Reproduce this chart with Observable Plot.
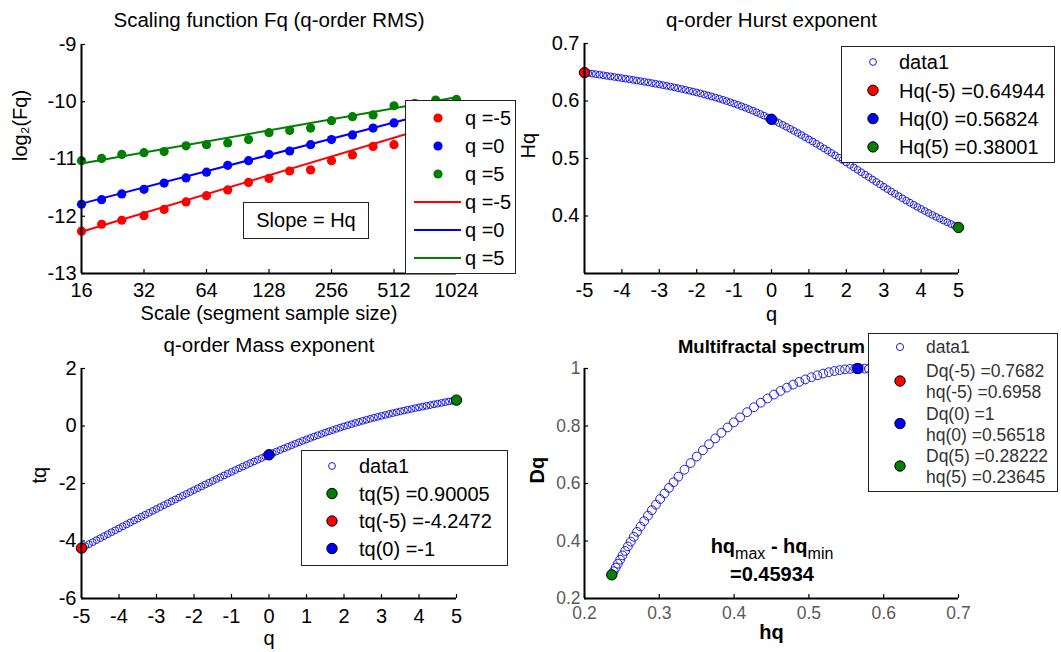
<!DOCTYPE html>
<html>
<head>
<meta charset="utf-8">
<script src="https://cdn.jsdelivr.net/npm/d3@7"></script>
<script src="https://cdn.jsdelivr.net/npm/@observablehq/plot@0.6"></script>
<style>
  html, body { margin: 0; padding: 0; background: #fff; }
  #root { position: relative; width: 1061px; height: 652px; overflow: hidden; background: #fff;
          font-family: "Liberation Sans", Arial, Helvetica, sans-serif; }
  #root > svg { position: absolute; left: 0; top: 0; }
  .box { position: absolute; background: #fff; border: 1px solid #222; box-sizing: border-box; }
</style>
</head>
<body>
<div id="root"></div>
<script>
// ---------------- DATA ----------------
// Panel 1: scaling function
const scales = [16, 20, 25, 32, 40, 51, 64, 81, 102, 128, 161, 203, 256, 323, 406, 512, 645, 813, 1024];
const fqQm5 = [-12.26, -12.14, -12.07, -11.99, -11.88, -11.75, -11.64, -11.54, -11.41, -11.34, -11.21, -11.19, -11.03, -10.93, -10.78, -10.75, -10.62, -10.50, -10.36];
const fqQ0  = [-11.79, -11.71, -11.61, -11.53, -11.42, -11.33, -11.23, -11.11, -11.03, -10.92, -10.86, -10.75, -10.66, -10.58, -10.46, -10.37, -10.29, -10.20, -10.10];
const fqQ5  = [-11.03, -10.99, -10.92, -10.89, -10.87, -10.77, -10.75, -10.72, -10.66, -10.54, -10.50, -10.46, -10.33, -10.26, -10.23, -10.07, -10.03, -9.97, -9.96];
const fitScales = [16, 1024];
const fitQm5 = [-12.27, -10.30];
const fitQ0  = [-11.78, -10.08];
const fitQ5  = [-11.08, -9.92];
const seriesNames = ["q =-5", "q =0", "q =5"];
const seriesColors = ["#ff0000", "#0000ff", "#007f00"];
const scaleTicks = [16, 32, 64, 128, 256, 512, 1024];
const fqTicks = [-13, -12, -11, -10, -9];

// q grid and derived exponents
const qGrid = [-5,-4.9,-4.8,-4.7,-4.6,-4.5,-4.4,-4.3,-4.2,-4.1,
  -4,-3.9,-3.8,-3.7,-3.6,-3.5,-3.4,-3.3,-3.2,-3.1,
  -3,-2.9,-2.8,-2.7,-2.6,-2.5,-2.4,-2.3,-2.2,-2.1,
  -2,-1.9,-1.8,-1.7,-1.6,-1.5,-1.4,-1.3,-1.2,-1.1,
  -1,-0.9,-0.8,-0.7,-0.6,-0.5,-0.4,-0.3,-0.2,-0.1,
  0,
  0.1,0.2,0.3,0.4,0.5,0.6,0.7,0.8,0.9,1,
  1.1,1.2,1.3,1.4,1.5,1.6,1.7,1.8,1.9,2,
  2.1,2.2,2.3,2.4,2.5,2.6,2.7,2.8,2.9,3,
  3.1,3.2,3.3,3.4,3.5,3.6,3.7,3.8,3.9,4,
  4.1,4.2,4.3,4.4,4.5,4.6,4.7,4.8,4.9,5];

const hurst = [0.64944,0.64851,0.64757,0.64662,0.64566,0.64470,0.64373,0.64276,0.64178,0.64079,
  0.63979,0.63878,0.63775,0.63670,0.63563,0.63454,0.63343,0.63230,0.63115,0.62998,
  0.62879,0.62757,0.62631,0.62501,0.62367,0.62229,0.62087,0.61941,0.61791,0.61637,
  0.61479,0.61316,0.61146,0.60970,0.60787,0.60598,0.60402,0.60200,0.59991,0.59776,
  0.59554,0.59324,0.59085,0.58836,0.58578,0.58310,0.58033,0.57746,0.57450,0.57144,
  0.56829,
  0.56506,0.56177,0.55842,0.55501,0.55154,0.54801,0.54442,0.54077,0.53706,0.53329,
  0.52947,0.52560,0.52169,0.51773,0.51373,0.50968,0.50559,0.50145,0.49727,0.49304,
  0.48879,0.48455,0.48032,0.47610,0.47188,0.46767,0.46346,0.45926,0.45507,0.45089,
  0.44674,0.44266,0.43863,0.43467,0.43078,0.42694,0.42317,0.41947,0.41582,0.41224,
  0.40872,0.40528,0.40190,0.39858,0.39534,0.39216,0.38906,0.38602,0.38304,0.38014];

const massExp = [-4.2472,-4.1777,-4.1083,-4.0391,-3.9700,-3.9012,-3.8324,-3.7639,-3.6955,-3.6272,
  -3.5592,-3.4912,-3.4235,-3.3558,-3.2883,-3.2209,-3.1537,-3.0866,-3.0197,-2.9529,
  -2.8864,-2.8200,-2.7537,-2.6875,-2.6215,-2.5557,-2.4901,-2.4246,-2.3594,-2.2944,
  -2.2296,-2.1650,-2.1006,-2.0365,-1.9726,-1.9090,-1.8456,-1.7826,-1.7199,-1.6575,
  -1.5955,-1.5339,-1.4727,-1.4119,-1.3515,-1.2916,-1.2321,-1.1732,-1.1149,-1.0571,
  -1.0000,
  -0.9435,-0.8876,-0.8325,-0.7780,-0.7242,-0.6712,-0.6189,-0.5674,-0.5166,-0.4667,
  -0.4176,-0.3693,-0.3218,-0.2752,-0.2294,-0.1845,-0.1405,-0.0974,-0.0552,-0.0139,
  0.0265,0.0660,0.1047,0.1426,0.1797,0.2159,0.2513,0.2859,0.3197,0.3527,
  0.3849,0.4165,0.4475,0.4779,0.5077,0.5370,0.5657,0.5940,0.6217,0.6490,
  0.6758,0.7022,0.7282,0.7538,0.7790,0.8039,0.8286,0.8529,0.8769,0.9007];

const specH = [0.69594,0.69442,0.69288,0.69132,0.68973,0.68813,0.68650,0.68486,0.68319,0.68150,
  0.67979,0.67856,0.67727,0.67592,0.67451,0.67304,0.67151,0.66992,0.66827,0.66656,
  0.66479,0.66353,0.66215,0.66065,0.65903,0.65729,0.65543,0.65345,0.65135,0.64913,
  0.64679,0.64480,0.64260,0.64022,0.63763,0.63486,0.63188,0.62872,0.62535,0.62180,
  0.61804,0.61435,0.61037,0.60611,0.60156,0.59673,0.59161,0.58621,0.58052,0.57455,
  0.56829,
  0.56180,0.55513,0.54828,0.54125,0.53404,0.52665,0.51908,0.51133,0.50340,0.49529,
  0.48718,0.47892,0.47054,0.46201,0.45336,0.44456,0.43564,0.42657,0.41738,0.40804,
  0.39969,0.39136,0.38305,0.37477,0.36651,0.35826,0.35003,0.34183,0.33365,0.32549,
  0.31911,0.31293,0.30693,0.30112,0.29551,0.29007,0.28483,0.27978,0.27491,0.27024,
  0.26596,0.26189,0.25802,0.25435,0.25089,0.24763,0.24458,0.24173,0.23908,0.23664];

const specD = [0.76750,0.77503,0.78250,0.78992,0.79728,0.80459,0.81182,0.81898,0.82607,0.83308,
  0.84000,0.84486,0.84982,0.85489,0.86003,0.86525,0.87053,0.87585,0.88122,0.88660,
  0.89200,0.89572,0.89965,0.90377,0.90806,0.91250,0.91706,0.92171,0.92643,0.93120,
  0.93600,0.93989,0.94395,0.94812,0.95238,0.95669,0.96100,0.96527,0.96947,0.97356,
  0.97750,0.98101,0.98438,0.98758,0.99053,0.99319,0.99549,0.99738,0.99880,0.99969,
  1.00000,
  0.99967,0.99867,0.99696,0.99450,0.99125,0.98718,0.98226,0.97645,0.96971,0.96200,
  0.95348,0.94398,0.93350,0.92199,0.90944,0.89581,0.88108,0.86522,0.84820,0.83000,
  0.81288,0.79498,0.77629,0.75681,0.73656,0.71554,0.69375,0.67119,0.64787,0.62380,
  0.60436,0.58487,0.56538,0.54592,0.52654,0.50726,0.48813,0.46919,0.45046,0.43200,
  0.41468,0.39777,0.38132,0.36538,0.34998,0.33515,0.32095,0.30742,0.29459,0.28250];

// highlighted points
const hurstMarkQ = [-5, 0, 5];
const hurstMarkV = [0.64944, 0.56824, 0.38001];
const hurstMarkColor = ["#ff0000", "#0000ff", "#007f00"];
const hurstLegend = ["data1", "Hq(-5) =0.64944", "Hq(0) =0.56824", "Hq(5) =0.38001"];

const massMarkQ = [5, -5, 0];
const massMarkV = [0.90005, -4.2472, -1];
const massMarkColor = ["#007f00", "#ff0000", "#0000ff"];
const massLegend = ["data1", "tq(5) =0.90005", "tq(-5) =-4.2472", "tq(0) =-1"];

const specMarkH = [0.6958, 0.56518, 0.23645];
const specMarkD = [0.7682, 1, 0.28222];
const specMarkColor = ["#ff0000", "#0000ff", "#007f00"];
const specLegend = [["Dq(-5) =0.7682", "hq(-5) =0.6958"], ["Dq(0) =1", "hq(0) =0.56518"], ["Dq(5) =0.28222", "hq(5) =0.23645"]];
const specWidth = "=0.45934";

const qTicks = [-5, -4, -3, -2, -1, 0, 1, 2, 3, 4, 5];
const hurstTicks = [0.4, 0.5, 0.6, 0.7];
const massTicks = [-6, -4, -2, 0, 2];
const specXTicks = [0.2, 0.3, 0.4, 0.5, 0.6, 0.7];
const specYTicks = [0.2, 0.4, 0.6, 0.8, 1];

// ---------------- LAYOUT ----------------
const W = 1061, H = 652;
const FONT = '"Liberation Sans", Arial, Helvetica, sans-serif';
const BLUE_O = "#1c1ce0";
const fmt = d => String(d);

function panel(frame, opts, marks) {
  const fw = frame.x1 - frame.x0, fh = frame.y1 - frame.y0;
  return Plot.plot({
    width: W, height: H,
    marginLeft: frame.x0, marginRight: W - frame.x1,
    marginTop: frame.y0, marginBottom: H - frame.y1,
    style: { background: "transparent", fontFamily: FONT, overflow: "visible", color: "#000" },
    color: { type: "identity" },
    ...opts,
    marks: marks(fw, fh)
  });
}
const label = (s, o) => Plot.text([s], { text: d => d, lineAnchor: "middle", fontSize: 20, ...o });

const root = document.getElementById("root");

// Panel 1 -- Scaling function
const F1 = { x0: 81, x1: 456, y0: 44, y1: 273 };
const ptsRows = [fqQm5, fqQ0, fqQ5].flatMap((arr, i) => arr.map((v, j) => ({ s: scales[j], v, c: seriesColors[i], k: seriesNames[i] })));
const fitRows = [fitQm5, fitQ0, fitQ5].flatMap((arr, i) => arr.map((v, j) => ({ s: fitScales[j], v, c: seriesColors[i], k: seriesNames[i] })));
root.append(panel(F1, {
  x: { type: "log", base: 2, domain: [16, 1024] },
  y: { domain: [-13, -9] }
}, (fw, fh) => [
  Plot.dot(ptsRows, { x: "s", y: "v", fill: "c", r: 4.6 }),
  Plot.line(fitRows, { x: "s", y: "v", z: "k", stroke: "c", strokeWidth: 2 }),
  Plot.ruleY([-13], { strokeWidth: 2 }),
  Plot.ruleX([16], { strokeWidth: 2 }),
  Plot.tickX(scaleTicks, { x: d => d, insetTop: fh - 4, strokeWidth: 1.2 }),
  Plot.tickY(fqTicks, { y: d => d, insetRight: fw - 4, strokeWidth: 1.2 }),
  Plot.axisX({ ticks: scaleTicks, tickFormat: fmt, tickSize: 0, tickPadding: 9, fontSize: 20, label: null }),
  Plot.axisY({ ticks: fqTicks, tickFormat: fmt, tickSize: 0, tickPadding: 5, fontSize: 20, label: null }),
  label("Scaling function Fq (q-order RMS)", { frameAnchor: "top", dy: -24, fontSize: 20.5 }),
  label("Scale (segment sample size)", { frameAnchor: "bottom", dy: 40 }),
  label("log\u2082(Fq)", { frameAnchor: "left", rotate: -90, dx: -61, dy: 2 })
]));

// Panel 2 -- Hurst exponent
const F2 = { x0: 584, x1: 958, y0: 43, y1: 273 };
const hurstRows = qGrid.map((q, i) => ({ q, v: hurst[i] }));
const hurstMarks = hurstMarkQ.map((q, i) => ({ q, v: hurstMarkV[i], c: hurstMarkColor[i] }));
root.append(panel(F2, {
  x: { domain: [-5, 5] },
  y: { domain: [0.3, 0.7] }
}, (fw, fh) => [
  Plot.dot(hurstRows, { x: "q", y: "v", r: 3.4, stroke: BLUE_O, strokeWidth: 1, fill: "none" }),
  Plot.dot(hurstMarks, { x: "q", y: "v", r: 5.2, fill: "c", stroke: "#000", strokeWidth: 1 }),
  Plot.ruleY([0.3], { strokeWidth: 2 }),
  Plot.ruleX([-5], { strokeWidth: 2 }),
  Plot.tickX(qTicks, { x: d => d, insetTop: fh - 4, strokeWidth: 1.2 }),
  Plot.tickY(hurstTicks, { y: d => d, insetRight: fw - 4, strokeWidth: 1.2 }),
  Plot.axisX({ ticks: qTicks, tickFormat: fmt, tickSize: 0, tickPadding: 9, fontSize: 20, label: null }),
  Plot.axisY({ ticks: hurstTicks, tickFormat: fmt, tickSize: 0, tickPadding: 5, fontSize: 20, label: null }),
  label("q-order Hurst exponent", { frameAnchor: "top", dy: -23, fontSize: 20.5 }),
  label("q", { frameAnchor: "bottom", dy: 41 }),
  label("Hq", { frameAnchor: "left", rotate: -90, dx: -56 })
]));

// Panel 3 -- Mass exponent
const F3 = { x0: 81, x1: 456, y0: 368, y1: 598 };
const massRows = qGrid.map((q, i) => ({ q, v: massExp[i] }));
const massMarks = massMarkQ.map((q, i) => ({ q, v: massMarkV[i], c: massMarkColor[i] }));
root.append(panel(F3, {
  x: { domain: [-5, 5] },
  y: { domain: [-6, 2] }
}, (fw, fh) => [
  Plot.dot(massRows, { x: "q", y: "v", r: 3.4, stroke: BLUE_O, strokeWidth: 1, fill: "none" }),
  Plot.dot(massMarks, { x: "q", y: "v", r: 5.2, fill: "c", stroke: "#000", strokeWidth: 1 }),
  Plot.ruleY([-6], { strokeWidth: 2 }),
  Plot.ruleX([-5], { strokeWidth: 2 }),
  Plot.tickX(qTicks, { x: d => d, insetTop: fh - 4, strokeWidth: 1.2 }),
  Plot.tickY(massTicks, { y: d => d, insetRight: fw - 4, strokeWidth: 1.2 }),
  Plot.axisX({ ticks: qTicks, tickFormat: fmt, tickSize: 0, tickPadding: 10, fontSize: 20, label: null }),
  Plot.axisY({ ticks: massTicks, tickFormat: fmt, tickSize: 0, tickPadding: 5, fontSize: 20, label: null }),
  label("q-order Mass exponent", { frameAnchor: "top", dy: -23, fontSize: 20.5 }),
  label("q", { frameAnchor: "bottom", dy: 40 }),
  label("tq", { frameAnchor: "left", rotate: -90, dx: -42 })
]));

// Panel 4 -- Multifractal spectrum
const F4 = { x0: 584, x1: 958, y0: 368, y1: 598 };
const specRows = qGrid.map((q, i) => ({ h: specH[i], d: specD[i] }));
const specMarks = specMarkH.map((h, i) => ({ h, d: specMarkD[i], c: specMarkColor[i] }));
root.append(panel(F4, {
  x: { domain: [0.2, 0.7] },
  y: { domain: [0.2, 1] }
}, (fw, fh) => [
  Plot.dot(specRows, { x: "h", y: "d", r: 4.4, stroke: BLUE_O, strokeWidth: 1, fill: "none" }),
  Plot.dot(specMarks, { x: "h", y: "d", r: 5.2, fill: "c", stroke: "#000", strokeWidth: 1 }),
  Plot.ruleY([0.2], { strokeWidth: 2 }),
  Plot.ruleX([0.2], { strokeWidth: 2 }),
  Plot.tickX(specXTicks, { x: d => d, insetTop: fh - 4, strokeWidth: 1.2 }),
  Plot.tickY(specYTicks, { y: d => d, insetRight: fw - 4, strokeWidth: 1.2 }),
  Plot.axisX({ ticks: specXTicks, tickFormat: fmt, tickSize: 0, tickPadding: 8, fontSize: 17.5, fill: "#5a5a5a", label: null }),
  Plot.axisY({ ticks: specYTicks, tickFormat: fmt, tickSize: 0, tickPadding: 4, fontSize: 17.5, fill: "#5a5a5a", label: null }),
  label("Multifractal spectrum", { frameAnchor: "top", dy: -21, fontSize: 18.5, fontWeight: "bold" }),
  label("hq", { frameAnchor: "bottom", dy: 34, fontWeight: "bold" }),
  label("Dq", { frameAnchor: "left", rotate: -90, dx: -47, fontWeight: "bold" })
]));

// ---------------- LEGENDS / ANNOTATIONS ----------------
function makeLegend(cfg) {
  const svg = d3.create("svg")
    .attr("width", cfg.width).attr("height", cfg.height)
    .style("position", "absolute").style("left", cfg.left + "px").style("top", cfg.top + "px")
    .style("font-family", FONT);
  svg.append("rect").attr("x", 0.5).attr("y", 0.5)
    .attr("width", cfg.width - 1).attr("height", cfg.height - 1)
    .attr("fill", "#fff").attr("stroke", "#222").attr("stroke-width", 1);
  for (const r of cfg.rows) {
    if (r.kind === "line") {
      svg.append("line").attr("x1", cfg.lineX1).attr("x2", cfg.lineX2)
        .attr("y1", r.y).attr("y2", r.y).attr("stroke", r.color).attr("stroke-width", 2);
    } else {
      svg.append("circle").attr("cx", cfg.markerX).attr("cy", r.y).attr("r", r.r)
        .attr("fill", r.kind === "open" ? "none" : r.color)
        .attr("stroke", r.kind === "open" ? r.color : (r.edge || "none"))
        .attr("stroke-width", 1);
    }
    const texts = r.texts || [{ y: r.y, text: r.text }];
    for (const t of texts) {
      svg.append("text").attr("x", cfg.textX).attr("y", t.y).attr("dy", "0.36em")
        .attr("font-size", cfg.fontSize).attr("fill", cfg.textColor || "#000").text(t.text);
    }
  }
  return svg.node();
}

// "Slope = Hq" box
const slopeBox = document.createElement("div");
slopeBox.className = "box";
Object.assign(slopeBox.style, { left: "243px", top: "202px", width: "126px", height: "37px",
  fontSize: "20px", lineHeight: "35px", textAlign: "center" });
slopeBox.textContent = "Slope = Hq";
root.append(slopeBox);

// Legend 1
root.append(makeLegend({
  left: 405, top: 100, width: 111, height: 174, fontSize: 20,
  markerX: 33, lineX1: 9, lineX2: 56, textX: 60,
  rows: [
    ...seriesNames.map((n, i) => ({ y: 18 + i * 28, kind: "dot", color: seriesColors[i], r: 4.6, text: n })),
    ...seriesNames.map((n, i) => ({ y: 102 + i * 28, kind: "line", color: seriesColors[i], text: n }))
  ]
}));

// Legend 2
root.append(makeLegend({
  left: 841, top: 46, width: 214, height: 117, fontSize: 20,
  markerX: 32, textX: 58,
  rows: hurstLegend.map((t, i) => i === 0
    ? { y: 16, kind: "open", color: BLUE_O, r: 3.4, text: t }
    : { y: 16 + i * 28.3, kind: "dot", color: hurstMarkColor[i - 1], edge: "#000", r: 5.2, text: t })
}));

// Legend 3
root.append(makeLegend({
  left: 301, top: 450, width: 207, height: 116, fontSize: 20,
  markerX: 31, textX: 58,
  rows: massLegend.map((t, i) => i === 0
    ? { y: 16, kind: "open", color: BLUE_O, r: 3.4, text: t }
    : { y: 16 + i * 27.5, kind: "dot", color: massMarkColor[i - 1], edge: "#000", r: 5.2, text: t })
}));

// Legend 4
root.append(makeLegend({
  left: 868, top: 333, width: 190, height: 159, fontSize: 17.5, textColor: "#333",
  markerX: 32, textX: 58,
  rows: [
    { y: 14, kind: "open", color: BLUE_O, r: 3.6, text: "data1" },
    ...specLegend.map((pair, i) => ({
      y: 48 + i * 42.5, kind: "dot", color: specMarkColor[i], edge: "#000", r: 5.2,
      texts: [{ y: 38 + i * 42.5, text: pair[0] }, { y: 59 + i * 42.5, text: pair[1] }]
    }))
  ]
}));

// Width annotation
const ann = document.createElement("div");
Object.assign(ann.style, { position: "absolute", left: "672px", width: "200px", top: "533px",
  textAlign: "center", fontWeight: "bold", fontSize: "20px", lineHeight: "26px", color: "#000" });
ann.innerHTML = 'hq<span style="font-weight:normal;font-size:16px;position:relative;top:6px">max</span> - hq<span style="font-weight:normal;font-size:16px;position:relative;top:6px">min</span><br>' + specWidth;
root.append(ann);
</script>
</body>
</html>
